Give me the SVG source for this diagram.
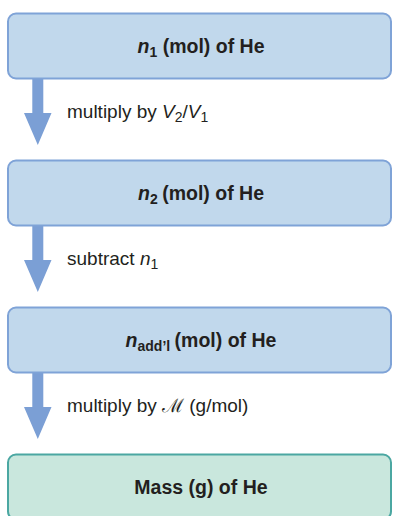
<svg xmlns="http://www.w3.org/2000/svg" width="393" height="516" viewBox="0 0 393 516">
<style>
.box{fill:#c1d8ec;stroke:#7fa3d7;stroke-width:2}
.final{fill:#c9e7dd;stroke:#4ba7a2;stroke-width:2}
.t{font-family:"Liberation Sans",Arial,sans-serif;font-size:19.5px;font-weight:bold;fill:#231f20;text-anchor:middle}
.l{font-family:"Liberation Sans",Arial,sans-serif;font-size:19px;fill:#231f20}
.arr{fill:#7b9fd5}
.i{font-style:italic}
</style>
<g id="connectors">
<path class="arr" d="M32.3 78 H43.3 V113 H51.5 L37.8 145 L24 113 H32.3 Z"/>
<path class="arr" d="M32.3 225 H43.3 V260 H51.5 L37.8 292 L24 260 H32.3 Z"/>
<path class="arr" d="M32.3 372 H43.3 V407 H51.5 L37.8 439 L24 407 H32.3 Z"/>
<text class="l" x="67" y="118">multiply by <tspan class="i">V</tspan><tspan font-size="14" dy="4">2</tspan><tspan dy="-4">/</tspan><tspan class="i">V</tspan><tspan font-size="14" dy="4">1</tspan></text>
<text class="l" x="67" y="265">subtract <tspan class="i">n</tspan><tspan font-size="14" dy="4">1</tspan></text>
<text class="l" x="67" y="412">multiply by <tspan font-family="'DejaVu Serif','Noto Sans',serif" font-size="19">ℳ</tspan> (g/mol)</text>
</g>
<g id="node1">
<rect class="box" x="8" y="13.5" width="383" height="65" rx="8"/>
<text class="t" x="201" y="53"><tspan class="i">n</tspan><tspan font-size="14" dy="4">1</tspan><tspan dy="-4"> (mol) of He</tspan></text>
</g>
<g id="node2">
<rect class="box" x="8" y="160.5" width="383" height="65" rx="8"/>
<text class="t" x="201" y="200"><tspan class="i">n</tspan><tspan font-size="14" dy="4">2</tspan><tspan dy="-4" dx="-1"> (mol) of He</tspan></text>
</g>
<g id="node3">
<rect class="box" x="8" y="307.5" width="383" height="65" rx="8"/>
<text class="t" x="201" y="347"><tspan class="i">n</tspan><tspan font-size="14" dy="4">add’l</tspan><tspan dy="-4" dx="-1"> (mol) of He</tspan></text>
</g>
<g id="node4">
<rect class="final" x="8" y="454.5" width="383" height="65" rx="8"/>
<text class="t" x="201" y="494">Mass (g) of He</text>
</g>
</svg>
